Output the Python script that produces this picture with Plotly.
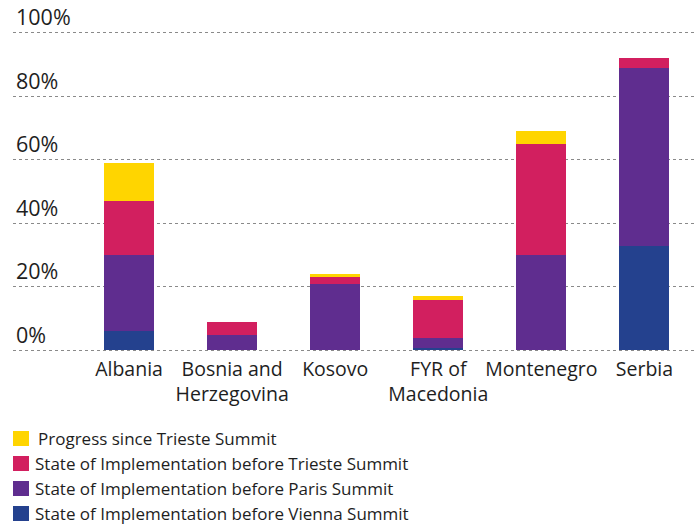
import plotly.graph_objects as go

categories = ["Albania", "Bosnia and<br>Herzegovina", "Kosovo", "FYR of<br>Macedonia", "Montenegro", "Serbia"]

vienna = [6, 0, 0, 0.7, 0, 33]
paris = [24, 5, 21, 3.2, 30, 56]
trieste = [17, 4, 2, 12, 35, 3]
progress = [12, 0, 1.2, 1.2, 4, 0]

series_names = [
    "State of Implementation before Vienna Summit",
    "State of Implementation before Paris Summit",
    "State of Implementation before Trieste Summit",
    "Progress since Trieste Summit",
]
series_values = [vienna, paris, trieste, progress]
series_colors = ["#24418E", "#5F2D8F", "#D21F5F", "#FFD500"]

ytick_vals = [0, 20, 40, 60, 80, 100]
ytick_text = ["0%", "20%", "40%", "60%", "80%", "100%"]

FONT = "Open Sans"
TXT = "#1e1e1e"

W, H = 697, 527
ML, MR, MT, MB = 13, 0, 31, 175
PW, PH = W - ML - MR, H - MT - MB

fig = go.Figure()
for name, vals, col in zip(series_names, series_values, series_colors):
    fig.add_trace(go.Bar(x=list(range(len(categories))), y=vals, name=name,
                         marker=dict(color=col, line=dict(width=0)),
                         width=0.485, showlegend=False))

def px_x(p):
    return (p - ML) / PW

def px_y(p):
    return (H - MB - p) / PH

shapes = []
annotations = []
legend_order = list(range(len(series_names)))[::-1]
for i, idx in enumerate(legend_order):
    top = 431 + 25 * i
    shapes.append(dict(type="rect", xref="paper", yref="paper",
                       x0=px_x(13), x1=px_x(29), y0=px_y(top + 15), y1=px_y(top),
                       fillcolor=series_colors[idx], line=dict(width=0)))
    tx = 36 if i == 0 else 33
    annotations.append(dict(xref="paper", yref="paper", x=px_x(tx), y=px_y(top + 7.5),
                            text=series_names[idx], showarrow=False,
                            xanchor="left", yanchor="middle",
                            font=dict(family=FONT, size=17, color=TXT)))

fig.update_layout(
    width=W, height=H,
    margin=dict(l=ML, r=MR, t=MT, b=MB),
    barmode="stack",
    paper_bgcolor="white", plot_bgcolor="white",
    font=dict(family=FONT, color=TXT),
    shapes=shapes, annotations=annotations,
    showlegend=False,
)
fig.update_xaxes(
    tickmode="array", tickvals=list(range(len(categories))), ticktext=categories,
    range=[-1.126, 5.51], showgrid=False, zeroline=False, showline=False,
    ticks="", ticklabelstandoff=3, tickangle=0,
    tickfont=dict(family=FONT, size=19.5, color=TXT),
)
fig.update_yaxes(
    range=[-0.5, 100.5], tickmode="array", tickvals=ytick_vals, ticktext=ytick_text,
    showgrid=True, gridcolor="#8a8a8a", griddash="dot", gridwidth=1.2,
    zeroline=False, showline=False, ticks="",
    ticklabelposition="inside top", ticklabeloverflow="allow",
    tickfont=dict(family=FONT, size=21.5, color=TXT),
)

fig.write_html("out.html")
